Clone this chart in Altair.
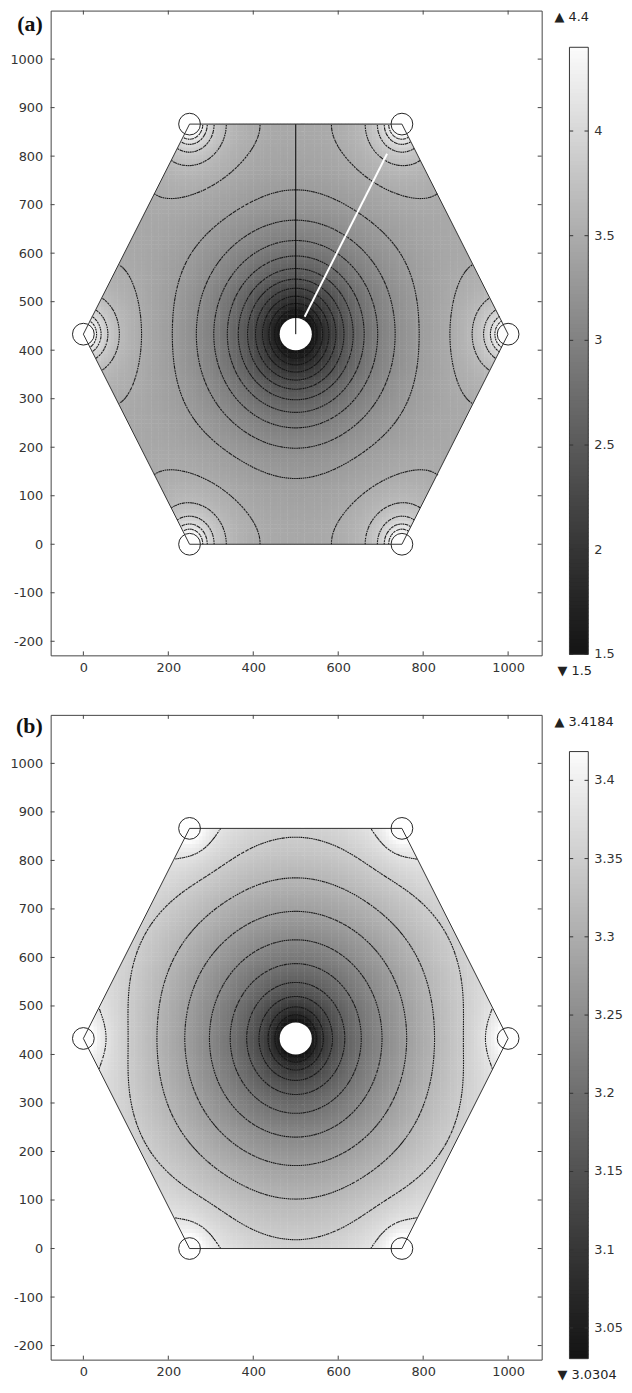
import altair as alt
import numpy as np
import pandas as pd

alt.data_transformers.disable_max_rows()

# hexagonal cell, the wells on its corners and the pore in its centre (data units)
hex_x = [0, 250, 750, 1000, 750, 250, 0]
hex_y = [433, 0, 0, 433, 866, 866, 433]
well_x = [0, 250, 750, 1000, 750, 250]
well_y = [433, 0, 0, 433, 866, 866]
pore_x = [500]
pore_y = [433]
pore_radius = 36
# centres of the six neighbouring cells
neigh_x = [500, 1250, 1250, 500, -250, -250]
neigh_y = [1299, 866, 0, -433, 0, 866]

x_ticks = [0, 200, 400, 600, 800, 1000]
y_ticks = [-200, -100, 0, 100, 200, 300, 400, 500, 600, 700, 800, 900, 1000]
x_domain = [-77, 1079]
y_domain = [-229, 1100]

# panel (a)
a_range = [1.5, 4.4]
a_bar_ticks = [1.5, 2, 2.5, 3, 3.5, 4]
a_n_levels = 15
# offset, short pore term, its length, long pore term, its length, well term, well length
a_model = [3.626, 0.0, 40, 2.835, 139, 0.357, 90]
a_black_x = [500, 500]
a_black_y = [433, 866]
a_white_x = [521, 715]
a_white_y = [469, 805]

# panel (b)
b_range = [3.0304, 3.4184]
b_bar_ticks = [3.05, 3.1, 3.15, 3.2, 3.25, 3.3, 3.35, 3.4]
b_n_levels = 10
b_model = [4.591, 0.223, 40, 0.59, 640, 0.0247, 60]

W, H = 495, 650
GRAY = ["#141414", "#fcfcfc"]
FONT = "DejaVu Sans"


def in_hexagon(x, y, pad=0.0):
    cx, cy = pore_x[0], pore_y[0]
    half_h = (max(hex_y) - min(hex_y)) / 2
    half_w = (max(hex_x) - min(hex_x)) / 2
    return (np.abs(y - cy) <= half_h + pad) & (
        np.sqrt(3) * np.abs(x - cx) + np.abs(y - cy) <= np.sqrt(3) * half_w + pad)


def field(X, Y, m):
    off, a1, l1, a2, l2, c, mu = m
    rc = np.hypot(X - pore_x[0], Y - pore_y[0])
    f = off - a1 * np.exp(-rc / l1) - a2 * np.exp(-rc / l2)
    for nx_, ny_ in zip(neigh_x, neigh_y):
        f = f - a2 * np.exp(-np.hypot(X - nx_, Y - ny_) / l2)
    for wx, wy in zip(well_x, well_y):
        rv = np.maximum(np.hypot(X - wx, Y - wy), 3)
        f = f + c * np.log1p((mu / rv) ** 2)
    return f


def cells(model):
    nx, ny = 125, 108
    dx, dy = 1000 / nx, 866 / ny
    XC, YC = np.meshgrid((np.arange(nx) + 0.5) * dx, (np.arange(ny) + 0.5) * dy)
    keep = in_hexagon(XC, YC, pad=14)
    cx, cy = XC[keep], YC[keep]
    return pd.DataFrame({
        "x": np.round(cx - dx / 2, 1), "x2": np.round(cx + 0.62 * dx, 1),
        "y": np.round(cy - dy / 2, 1), "y2": np.round(cy + 0.62 * dy, 1),
        "v": np.round(field(cx, cy, model), 4),
    })


def contours(model, levels):
    xs = np.linspace(0, 1000, 201)
    ys = np.linspace(0, 866, 174)
    XN, YN = np.meshgrid(xs, ys)
    F = field(XN, YN, model)
    X0 = np.broadcast_to(xs[:-1][None, :], F[:-1, :-1].shape)
    X1 = np.broadcast_to(xs[1:][None, :], X0.shape)
    Y0 = np.broadcast_to(ys[:-1][:, None], X0.shape)
    Y1 = np.broadcast_to(ys[1:][:, None], X0.shape)
    f00, f01, f10, f11 = F[:-1, :-1], F[:-1, 1:], F[1:, :-1], F[1:, 1:]
    rows = []
    for lev in levels:
        pts = []
        for fa, fb, xa, ya, xb, yb in ((f00, f01, X0, Y0, X1, Y0), (f01, f11, X1, Y0, X1, Y1),
                                       (f11, f10, X1, Y1, X0, Y1), (f10, f00, X0, Y1, X0, Y0)):
            hit = (fa > lev) != (fb > lev)
            t = np.where(hit, (lev - fa) / np.where(hit, fb - fa, 1.0), 0.0)
            pts.append((hit, xa + t * (xb - xa), ya + t * (yb - ya)))
        count = sum(p[0].astype(int) for p in pts)
        for i, j in zip(*np.nonzero(count >= 2)):
            p = [(px[i, j], py[i, j]) for hit, px, py in pts if hit[i, j]]
            pairs = [(p[0], p[1])] if len(p) == 2 else [(p[0], p[1]), (p[2], p[3])]
            for (xa, ya), (xb, yb) in pairs:
                rows.append((xa, ya, xb, yb))
    seg = np.array(rows)
    mx, my = (seg[:, 0] + seg[:, 2]) / 2, (seg[:, 1] + seg[:, 3]) / 2
    ok = in_hexagon(mx, my, -0.5) & (np.hypot(mx - pore_x[0], my - pore_y[0]) > pore_radius + 1)
    for wx, wy in zip(well_x, well_y):
        ok &= np.hypot(mx - wx, my - wy) > 20
    return pd.DataFrame(np.round(seg[ok], 1), columns=["x", "y", "x2", "y2"])


def panel(tag, tag_y, rng, bar_ticks, n_levels, model, guides):
    vmin, vmax = rng
    xsc = alt.Scale(domain=x_domain, nice=False, zero=False)
    ysc = alt.Scale(domain=y_domain, nice=False, zero=False)
    xax = alt.Axis(values=x_ticks, labelExpr="'' + datum.value", grid=False, ticks=False,
                   domain=False, labelPadding=6, labelFlush=False, title=None)
    yax = alt.Axis(values=y_ticks, labelExpr="'' + datum.value", grid=False, ticks=False,
                   domain=False, labelPadding=8, labelFlush=False, title=None)

    def X(f):
        return alt.X(f + ":Q", scale=xsc, axis=xax)

    def Y(f):
        return alt.Y(f + ":Q", scale=ysc, axis=yax)

    col = alt.Color("v:Q", scale=alt.Scale(domain=[vmin, vmax], range=GRAY, clamp=True), legend=None)

    heat = alt.Chart(cells(model)).mark_rect(strokeWidth=0).encode(
        x=X("x"), x2="x2", y=Y("y"), y2="y2", color=col)

    top, bottom = max(hex_y), min(hex_y)
    mask_df = pd.DataFrame({
        "tri": [0, 0, 1, 1, 2, 2, 3, 3],
        "x": [hex_x[0], hex_x[5], hex_x[0], hex_x[1], hex_x[4], hex_x[3], hex_x[2], hex_x[3]],
        "y": [hex_y[0], top, bottom, bottom, top, hex_y[3], bottom, bottom],
        "y2": [top, top, hex_y[0], bottom, top, top, bottom, hex_y[3]],
    })
    mask = alt.Chart(mask_df).mark_area(color="white", opacity=1).encode(
        x=X("x"), y=Y("y"), y2="y2", detail="tri:N")

    levels = np.linspace(vmin, vmax, n_levels + 2)[1:-1]
    lines = alt.Chart(contours(model, levels)).mark_rule(
        color="#151515", strokeWidth=1.1, strokeDash=[1.6, 0.9]
    ).encode(x=X("x"), y=Y("y"), x2="x2", y2="y2")

    pore = alt.Chart(pd.DataFrame({"x": pore_x, "y": pore_y})).mark_point(
        shape="circle", filled=True, color="white", opacity=1, size=1050, strokeWidth=0
    ).encode(x=X("x"), y=Y("y"))

    layers = [heat, mask, lines, pore]
    for gx, gy, colr, wd in guides:
        layers.append(alt.Chart(pd.DataFrame({"x": gx, "y": gy})).mark_line(
            color=colr, strokeWidth=wd).encode(x=X("x"), y=Y("y")))

    hexagon = alt.Chart(pd.DataFrame({"x": hex_x, "y": hex_y, "i": range(len(hex_x))})).mark_line(
        color="#333333", strokeWidth=1).encode(x=X("x"), y=Y("y"), order="i:Q")
    wells = alt.Chart(pd.DataFrame({"x": well_x, "y": well_y})).mark_point(
        shape="circle", filled=False, color="#222222", size=480, strokeWidth=1, opacity=1
    ).encode(x=X("x"), y=Y("y"))
    layers += [hexagon, wells]

    xt = alt.Chart(pd.DataFrame({"t": x_ticks}))
    yt = alt.Chart(pd.DataFrame({"t": y_ticks}))
    layers += [
        xt.mark_rule(color="#444444").encode(x=X("t"), y=alt.value(H), y2=alt.value(H - 4)),
        xt.mark_rule(color="#444444").encode(x=X("t"), y=alt.value(0), y2=alt.value(4)),
        yt.mark_rule(color="#444444").encode(y=Y("t"), x=alt.value(0), x2=alt.value(4)),
        yt.mark_rule(color="#444444").encode(y=Y("t"), x=alt.value(W), x2=alt.value(W - 4)),
        alt.Chart(pd.DataFrame({"t": [tag]})).mark_text(
            align="right", baseline="middle", font="Liberation Serif", fontWeight="bold",
            fontSize=22, color="#111111"
        ).encode(text="t:N", x=alt.value(-8), y=alt.value(tag_y)),
    ]
    main = alt.layer(*layers)

    # colour bar on the right
    cbx = alt.Scale(domain=[0, 1], range=[523, 542])
    cby = alt.Scale(domain=[vmin, vmax], range=[649, 37])
    edges = np.linspace(vmin, vmax, 161)
    step = edges[1] - edges[0]
    band_df = pd.DataFrame({"c0": 0, "c1": 1, "lo": edges[:-1],
                            "hi": np.minimum(edges[1:] + 0.3 * step, vmax),
                            "v": (edges[:-1] + edges[1:]) / 2})
    bands = alt.Chart(band_df).mark_rect(strokeWidth=0).encode(
        x=alt.X("c0:Q", scale=cbx, axis=None), x2="c1",
        y=alt.Y("lo:Q", scale=cby, axis=None), y2="hi", color=col)
    frame = alt.Chart(pd.DataFrame({"c0": [0], "c1": [1], "lo": [vmin], "hi": [vmax]})).mark_rect(
        fillOpacity=0, stroke="#333333", strokeWidth=1).encode(
        x=alt.X("c0:Q", scale=cbx, axis=None), x2="c1",
        y=alt.Y("lo:Q", scale=cby, axis=None), y2="hi")
    tick_df = pd.DataFrame({"a": [0] * len(bar_ticks) + [0.8] * len(bar_ticks),
                            "b": [0.2] * len(bar_ticks) + [1] * len(bar_ticks),
                            "v": list(bar_ticks) * 2})
    bticks = alt.Chart(tick_df).mark_rule(color="#333333").encode(
        x=alt.X("a:Q", scale=cbx, axis=None), x2="b", y=alt.Y("v:Q", scale=cby, axis=None))
    lab_df = pd.DataFrame({"c1": 1, "v": bar_ticks, "label": [f"{t:g}" for t in bar_ticks]})
    blabels = alt.Chart(lab_df).mark_text(
        align="left", baseline="middle", dx=6, font=FONT, fontSize=13, color="#333333"
    ).encode(x=alt.X("c1:Q", scale=cbx, axis=None), y=alt.Y("v:Q", scale=cby, axis=None), text="label:N")
    ends = pd.DataFrame({"c0": [0], "hi": [vmax], "lo": [vmin],
                         "up": [f"\u25b2 {vmax:g}"], "down": [f"\u25bc {vmin:g}"]})
    up = alt.Chart(ends).mark_text(
        align="left", baseline="middle", dx=-15, dy=-30, font=FONT, fontSize=13, color="#222222"
    ).encode(x=alt.X("c0:Q", scale=cbx, axis=None), y=alt.Y("hi:Q", scale=cby, axis=None), text="up:N")
    down = alt.Chart(ends).mark_text(
        align="left", baseline="middle", dx=-12, dy=17, font=FONT, fontSize=13, color="#222222"
    ).encode(x=alt.X("c0:Q", scale=cbx, axis=None), y=alt.Y("lo:Q", scale=cby, axis=None), text="down:N")
    bar = alt.layer(bands, frame, bticks, blabels, up, down)

    return alt.layer(main, bar).resolve_scale(x="independent", y="independent").properties(
        width=W, height=H)


pa = panel("(a)", 14, a_range, a_bar_ticks, a_n_levels, a_model,
           [(a_black_x, a_black_y, "black", 1), (a_white_x, a_white_y, "white", 2)])
pb = panel("(b)", 11, b_range, b_bar_ticks, b_n_levels, b_model, [])

# frames of the two panels sit 710 px apart
chart = alt.vconcat(pa, pb, spacing=60, bounds="flush").resolve_scale(color="independent").properties(
    padding={"left": 1, "top": -4, "right": 0, "bottom": 0}
).configure_view(stroke="#444444", strokeWidth=1).configure_axis(
    labelFont=FONT, labelFontSize=13, labelColor="#333333")

chart.save("out.html", embed_options={"renderer": "svg", "actions": False})
